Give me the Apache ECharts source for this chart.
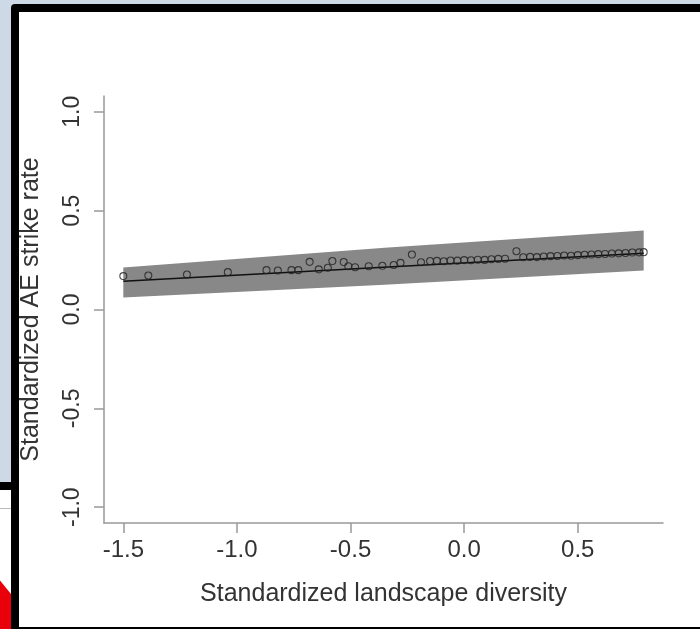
<!DOCTYPE html>
<html>
<head>
<meta charset="utf-8">
<script src="https://cdn.jsdelivr.net/npm/echarts@6/dist/echarts.min.js"></script>
<style>
  html, body { margin: 0; padding: 0; width: 700px; height: 629px; overflow: hidden; background: #cdd9e6; }
  .abs { position: absolute; }
</style>
</head>
<body>
<div class="abs" style="left:11px;top:4px;width:689px;height:625px;background:#000;border-top-left-radius:4px;"></div>
<div class="abs" style="left:19px;top:12px;width:681px;height:615px;background:#fff;"></div>
<div class="abs" style="left:0;top:482px;width:11px;height:8px;background:#000;"></div>
<div class="abs" style="left:0;top:490px;width:11px;height:139px;background:#fff;"></div>
<div class="abs" style="left:0;top:508px;width:11px;height:1px;background:#bbb;"></div>
<div class="abs" style="left:0;top:575px;width:11px;height:54px;background:#e8000b;clip-path:polygon(0 10%,100% 35%,100% 100%,0 100%);"></div>
<div id="chart" class="abs" style="left:0;top:0;width:700px;height:629px;"></div>
<script>
// observed points
var diversity = [-1.50, -1.39, -1.22, -1.04, -0.87, -0.82, -0.76, -0.73, -0.68, -0.64,
    -0.60, -0.58, -0.53, -0.51, -0.48, -0.42, -0.36, -0.31, -0.28, -0.23,
    -0.19, -0.15, -0.12, -0.09, -0.06, -0.03, 0.00, 0.03, 0.06, 0.09,
    0.12, 0.15, 0.18, 0.23, 0.26, 0.29, 0.32, 0.35, 0.38, 0.41,
    0.44, 0.47, 0.50, 0.53, 0.56, 0.59, 0.62, 0.65, 0.68, 0.71,
    0.74, 0.77, 0.79];
var strikeRate = [0.169, 0.172, 0.177, 0.189, 0.199, 0.197, 0.199, 0.199, 0.241, 0.203,
    0.211, 0.245, 0.240, 0.219, 0.214, 0.219, 0.221, 0.225, 0.236, 0.278,
    0.239, 0.245, 0.246, 0.244, 0.248, 0.247, 0.250, 0.249, 0.252, 0.251,
    0.254, 0.256, 0.257, 0.295, 0.264, 0.266, 0.265, 0.268, 0.270, 0.271,
    0.273, 0.272, 0.275, 0.277, 0.278, 0.280, 0.281, 0.283, 0.284, 0.286,
    0.288, 0.289, 0.290];

// fitted line and confidence band
var fitX = [-1.50, 0.79];
var fitY = [0.143, 0.285];
var bandX = [-1.50, -0.35, 0.79];
var bandUpper = [0.213, 0.312, 0.400];
var bandLower = [0.061, 0.125, 0.197];

var xTicks = [-1.5, -1.0, -0.5, 0.0, 0.5];
var yTicks = [-1.0, -0.5, 0.0, 0.5, 1.0];

var font = "'Liberation Sans', Arial, sans-serif";
var axisGrey = '#999';

var chart = echarts.init(document.getElementById('chart'));

var option = {
    backgroundColor: 'transparent',
    animation: false,
    grid: { left: 104, right: 37, top: 96, bottom: 106 },
    xAxis: {
        type: 'value',
        min: -1.585,
        max: 0.875,
        name: 'Standardized landscape diversity',
        nameLocation: 'middle',
        nameGap: 59,
        nameTextStyle: { fontFamily: font, fontSize: 25, color: '#333' },
        axisLine: { show: true, onZero: false, lineStyle: { color: axisGrey, width: 1.5 } },
        axisTick: { show: true, length: 10, customValues: xTicks, lineStyle: { color: axisGrey, width: 1.5 } },
        axisLabel: {
            customValues: xTicks,
            margin: 15,
            fontFamily: font,
            fontSize: 24,
            color: '#333',
            formatter: function (v) { return v.toFixed(1); }
        },
        splitLine: { show: false }
    },
    yAxis: {
        type: 'value',
        min: -1.08,
        max: 1.08,
        name: 'Standardized AE strike rate',
        nameLocation: 'middle',
        nameGap: 60,
        nameTextStyle: { fontFamily: font, fontSize: 25, color: '#333' },
        axisLine: { show: true, onZero: false, lineStyle: { color: axisGrey, width: 1.5 } },
        axisTick: { show: true, length: 10, customValues: yTicks, lineStyle: { color: axisGrey, width: 1.5 } },
        axisLabel: {
            customValues: yTicks,
            rotate: 90,
            margin: 20,
            fontFamily: font,
            fontSize: 23,
            color: '#333',
            formatter: function (v) { return v.toFixed(1); }
        },
        splitLine: { show: false }
    },
    series: [
        {
            type: 'custom',
            z: 1,
            data: [0],
            renderItem: function (params, api) {
                var pts = [];
                for (var i = 0; i < bandX.length; i++) pts.push(api.coord([bandX[i], bandUpper[i]]));
                for (var j = bandX.length - 1; j >= 0; j--) pts.push(api.coord([bandX[j], bandLower[j]]));
                return { type: 'polygon', shape: { points: pts }, style: { fill: '#888', stroke: null } };
            }
        },
        {
            type: 'line',
            z: 2,
            data: fitX.map(function (x, i) { return [x, fitY[i]]; }),
            symbol: 'none',
            lineStyle: { color: '#111', width: 1.5 }
        },
        {
            type: 'scatter',
            z: 3,
            data: diversity.map(function (x, i) { return [x, strikeRate[i]]; }),
            symbol: 'circle',
            symbolSize: 7,
            itemStyle: { color: 'rgba(0,0,0,0)', borderColor: '#222', borderWidth: 1.1 }
        }
    ]
};

chart.setOption(option);
</script>
</body>
</html>
